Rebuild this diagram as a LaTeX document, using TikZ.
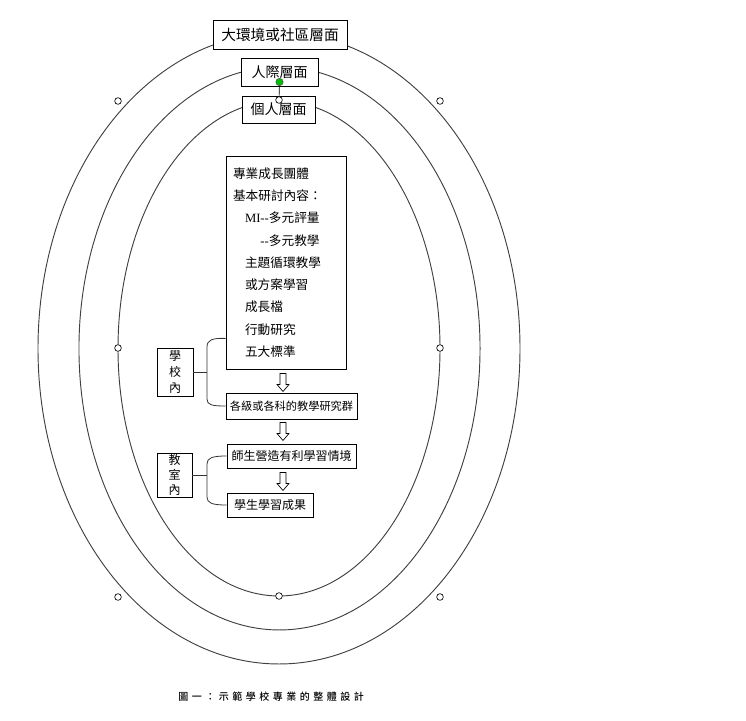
\documentclass[tikz,border=0pt]{standalone}
\usepackage{fontspec}
\setmainfont{Noto Sans CJK TC}
\newfontfamily\latinfont{Liberation Serif}
\newfontfamily\capfont[LetterSpace=35]{Noto Sans CJK TC Medium}
\usetikzlibrary{calc}

\tikzset{
  box/.style={draw, fill=white, line width=0.6pt, inner sep=0pt, font=\fontsize{9}{11}\selectfont},
  ring/.style={draw=black!75, line width=0.7pt},
  handle/.style={circle, draw, fill=white, inner sep=0pt, minimum size=5pt, line width=0.5pt},
  brace/.style={draw=black!80, line width=0.6pt},
  downarrow/.pic={\draw[fill=white, line width=0.5pt] (-3,-9) -- (3,-9) -- (3,2) -- (6,2) -- (0,9) -- (-6,2) -- (-3,2) -- cycle;}
}

\begin{document}
\begin{tikzpicture}[x=0.75pt,y=-0.75pt]
\useasboundingbox (0,0) rectangle (746,721);

% the three layers
\draw[ring] (279,348.5) ellipse [x radius=180.75pt, y radius=236.6pt];
\draw[ring] (279.5,348.5) ellipse [x radius=150.4pt, y radius=211.1pt];
\draw[ring] (279,348.5) ellipse [x radius=120.75pt, y radius=185.6pt];

\node[box, minimum width=100.5pt, minimum height=21.75pt, font=\fontsize{11}{13}\selectfont] (env) at (280,34.5) {大環境或社區層面};
\node[box, minimum width=57.75pt, minimum height=21pt, font=\fontsize{10.5}{12}\selectfont] (inter) at (279.5,72) {人際層面};
\node[box, minimum width=54.75pt, minimum height=20.25pt, font=\fontsize{10.5}{12}\selectfont] (indiv) at (278.5,109.5) {個人層面};

% contents
\node[box, minimum width=90pt, minimum height=159.75pt, text width=79.5pt, align=left,
      font=\fontsize{9.5}{16.7}\selectfont] (big) at (286,262.5)
  {專業成長團體\\
   基本研討內容：\\
   \hspace*{9pt}{\latinfont MI{-}{-}}多元評量\\
   \hspace*{9pt}\phantom{\latinfont MI}{\latinfont{-}{-}}多元教學\\
   \hspace*{9pt}主題循環教學\\
   \hspace*{9pt}或方案學習\\
   \hspace*{9pt}成長檔\\
   \hspace*{9pt}行動研究\\
   \hspace*{9pt}五大標準};
\node[box, minimum width=98.25pt, minimum height=19.5pt, font=\fontsize{8.4}{10}\selectfont] (grp) at (291.5,406) {各級或各科的教學研究群};
\node[box, minimum width=96.75pt, minimum height=18pt] (cond) at (291.5,456) {師生營造有利學習情境};
\node[box, minimum width=64.5pt, minimum height=18pt] (result) at (270,505) {學生學習成果};

\node[box, minimum width=27pt, minimum height=36pt, align=center, font=\fontsize{9}{12}\selectfont] (school) at (175,372) {學\\校\\內};
\node[box, minimum width=26.25pt, minimum height=33pt, align=center, font=\fontsize{9}{11.5}\selectfont] (class) at (174.5,475) {教\\室\\內};

\pic at (283,382.5) {downarrow};
\pic at (283,431.5) {downarrow};
\pic at (283,481.5) {downarrow};

% braces
\coordinate (k1) at (207,372);
\coordinate (k2) at (207,475);
\draw[brace] (school.east) -- (k1);
\draw[brace] ($(big.south west)+(0,-31)$) .. controls (212,338) and (207,340) .. (207,347)
  -- (207,399) .. controls (207,405) and (212,406) .. (grp.west);
\draw[brace] (class.east) -- (k2);
\draw[brace] (cond.west) .. controls (212,456) and (207,458) .. (207,464)
  -- (207,497) .. controls (207,503) and (212,505) .. (result.west);

% selection handles
\foreach \hx/\hy [count=\i] in {118/101, 440/101, 118/348, 440/348, 118/597, 440/597, 279/596}
  \node[handle] (h\i) at (\hx,\hy) {};
\node[handle] (htop) at (279,100) {};
\node[circle, draw=black!70, fill=green!75!black, inner sep=0pt, minimum size=5.5pt, line width=0.4pt] (rot) at (279.5,82) {};
\draw[line width=0.5pt] (rot) -- (htop);

\node[font=\capfont\fontsize{7.5}{9}\selectfont] (cap) at (271,697) {圖一：示範學校專業的整體設計};
\end{tikzpicture}
\end{document}
